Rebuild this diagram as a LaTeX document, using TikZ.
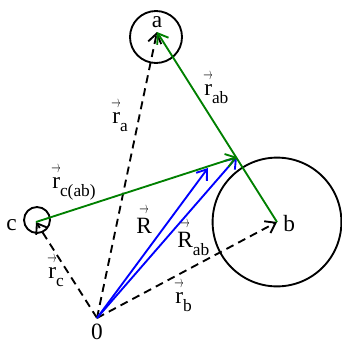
\documentclass[tikz,border=0pt]{standalone}
\usepackage{fontspec}
\setmainfont{Liberation Serif}
\usetikzlibrary{arrows.meta}
\definecolor{vgreen}{RGB}{0,128,0}
\definecolor{vblue}{RGB}{0,0,255}
\newcommand{\ovec}[1]{\leavevmode\setbox0\hbox{#1}\rlap{\hbox to\wd0{\hss\raisebox{\dimexpr\ht0+3.5pt\relax}{\resizebox{7pt}{4.5pt}{$\rightarrow$}}\hss}}\box0}
\newcommand{\vlab}[2]{\ovec{#1}\raisebox{-6pt}{\fontsize{13pt}{14pt}\selectfont #2}}
\begin{document}
\begin{tikzpicture}[x=0.75pt,y=-0.75pt,
  font=\fontsize{17.5pt}{19pt}\selectfont,
  vecline/.style={line width=1.4pt, -{Straight Barb[length=7pt,width=10pt]}},
  dvec/.style={vecline, dash pattern=on 6pt off 4pt},
  ring/.style={draw, line width=1.4pt},
  lab/.style={inner sep=0pt, anchor=base west},
  ptlab/.style={inner sep=0pt, anchor=base}]
\useasboundingbox (0,0) rectangle (342,343);
% points
\coordinate (O) at (97,318);
\coordinate (A) at (157,32);
\coordinate (B) at (277,222);
\coordinate (C) at (36,222);
\coordinate (Rab) at (237,157);
\coordinate (R) at (208,168);
% circles
\draw[ring] (156,37) circle[radius=19.5pt];
\draw[ring] (277,222) circle[radius=48.3pt];
\draw[ring] (37,220) circle[radius=9.75pt];
% dashed position vectors
\draw[dvec] (O) -- (A);
\draw[dvec] (O) -- (B);
\draw[dvec] (O) -- (C);
% blue vectors
\draw[vecline, vblue] (O) -- (R);
\draw[vecline, vblue] (O) -- (Rab);
% green vectors
\draw[vecline, vgreen] (B) -- (A);
\draw[vecline, vgreen] (C) -- (Rab);
% point labels
\node[ptlab] (la) at (157,27) {a};
\node[lab] (lb) at (283,231) {b};
\node[lab] (lc) at (6,230) {c};
\node[ptlab] (l0) at (97,339) {0};
% vector labels
\node[lab] (lra) at (112,123) {\vlab{r}{a}};
\node[lab] (lrab) at (204,95) {\vlab{r}{ab}};
\node[lab] (lrcab) at (52,188) {\vlab{r}{c(ab)}};
\node[lab] (lR) at (136,233) {\ovec{R}};
\node[lab] (lRab) at (177,247) {\vlab{R}{ab}};
\node[lab] (lrb) at (175,303) {\vlab{r}{b}};
\node[lab] (lrc) at (48,278) {\vlab{r}{c}};
\end{tikzpicture}
\end{document}
